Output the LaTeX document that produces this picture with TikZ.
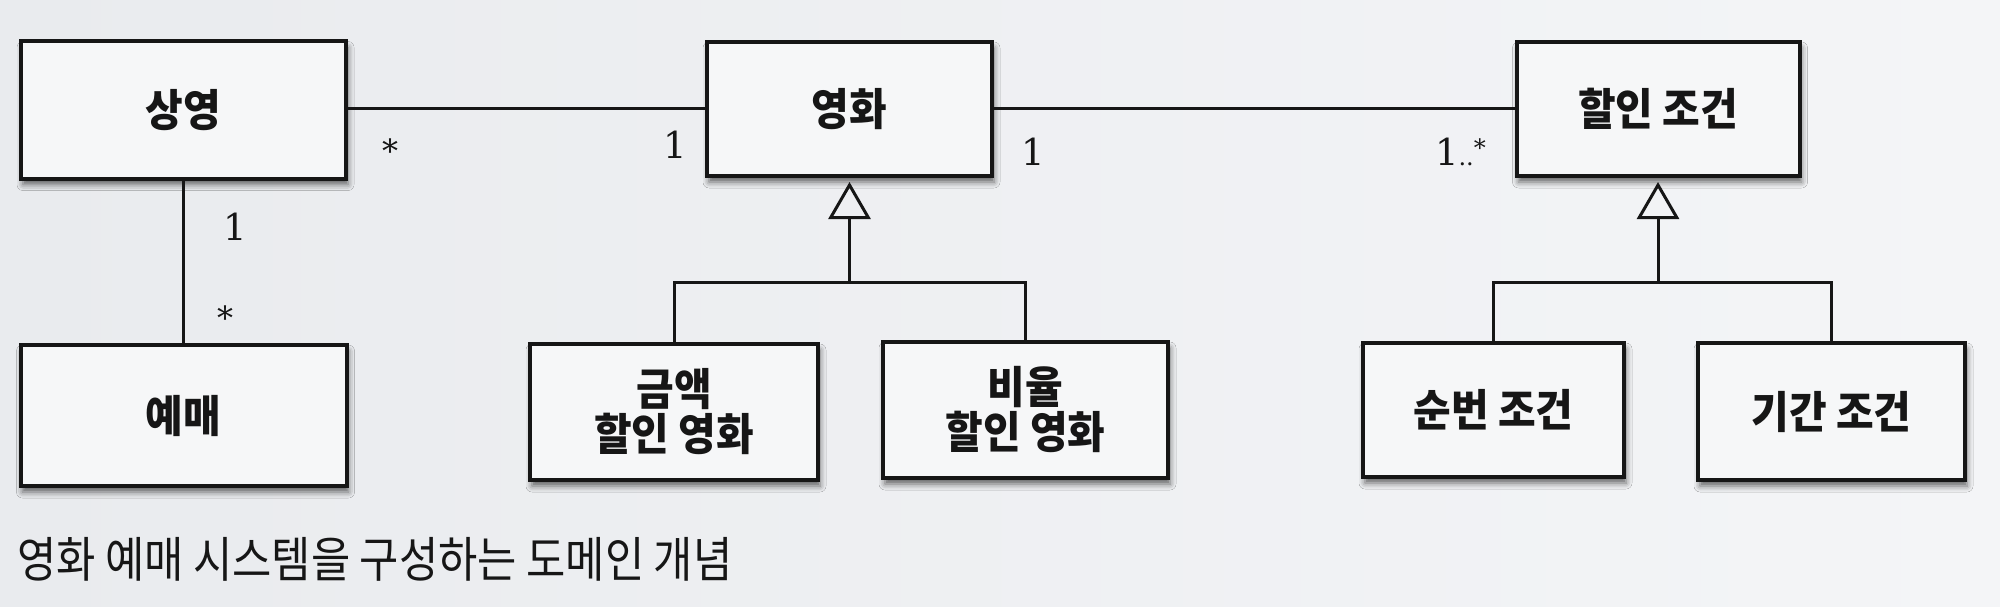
\documentclass[tikz,border=0pt]{standalone}
\usepackage{fontspec}
\newfontfamily\krfont[FakeStretch=0.93]{Noto Sans CJK KR}
\newfontfamily\capfont[FakeStretch=0.88]{Noto Sans CJK KR}
\newfontfamily\multfont{DejaVu Serif}
\usetikzlibrary{arrows.meta,shadows.blur,calc}
\definecolor{bgL}{RGB}{233,235,238}
\definecolor{bgR}{RGB}{244,245,247}
\definecolor{boxfill}{RGB}{246,247,248}
\definecolor{ink}{RGB}{22,22,22}
\begin{document}
\begin{tikzpicture}[x=1pt,y=-1pt,
  cls/.style={draw=ink, line width=4pt, fill=boxfill, rectangle, align=center,
    font=\krfont\bfseries\fontsize{44}{45}\selectfont, text=ink, inner sep=0pt,
    blur shadow={shadow xshift=2pt, shadow yshift=-6pt, shadow blur radius=6pt, shadow opacity=60}},
  assoc/.style={draw=ink, line width=3pt},
  gen/.style={draw=ink, line width=3pt, shorten >=4pt, -{Triangle[open, length=37pt, width=42pt]}},
  mult/.style={font=\multfont\fontsize{37}{37}\selectfont, text=ink, inner sep=0pt},
  star/.style={font=\multfont\fontsize{32}{32}\selectfont, text=ink, inner sep=0pt, anchor=base},
  ]
\useasboundingbox (0,0) rectangle (2000,607);
\shade[left color=bgL, right color=bgR] (0,0) rectangle (2000,607);

% classes
\node[cls, minimum width=325pt, minimum height=137pt] (sy) at (183.5,110) {상영};
\node[cls, minimum width=326pt, minimum height=141pt] (ym) at (183.5,415.5) {예매};
\node[cls, minimum width=285pt, minimum height=134pt] (mv) at (849.5,109) {영화};
\node[cls, minimum width=283pt, minimum height=134pt] (dc) at (1658,109) {할인 조건};
\node[cls, minimum width=288pt, minimum height=136pt] (am) at (674,412) {금액\\할인 영화};
\node[cls, minimum width=285pt, minimum height=136pt] (rt) at (1025.5,410) {비율\\할인 영화};
\node[cls, minimum width=261pt, minimum height=134pt] (sq) at (1493.5,410) {순번 조건};
\node[cls, minimum width=267pt, minimum height=137pt] (pd) at (1831.5,411.5) {기간 조건};

% associations
\draw[assoc] (sy.east |- mv.west) -- (mv.west);
\draw[assoc] (mv.east) -- (dc.west);
\draw[assoc] (sy.south) -- (ym.north);

% generalizations
\coordinate (b1) at (mv.south |- 0,282);
\draw[assoc] (am.north) |- (b1) -| (rt.north);
\draw[gen] (b1) -- (mv.south);
\coordinate (b2) at (dc.south |- 0,282);
\draw[assoc] (sq.north) |- (b2) -| (pd.north);
\draw[gen] (b2) -- (dc.south);

% multiplicities
\node[star] (m1) at (390,162) {*};
\node[mult, anchor=base] (m2) at (675,158) {1};
\node[mult, anchor=base] (m3) at (235,240) {1};
\node[star] (m4) at (225,329) {*};
\node[mult, anchor=base] (m5) at (1033,165) {1};
\node[mult, anchor=base east] (m6) at (1486,165) {1{\fontsize{24}{24}\selectfont ..}\raisebox{9pt}{\fontsize{24}{24}\selectfont *}};

% caption
\node[anchor=base west, font=\capfont\fontsize{48.5}{48.5}\selectfont, text=ink, inner sep=0pt] (cap) at (17,577) {영화 예매 시스템을 구성하는 도메인 개념};
\end{tikzpicture}
\end{document}
